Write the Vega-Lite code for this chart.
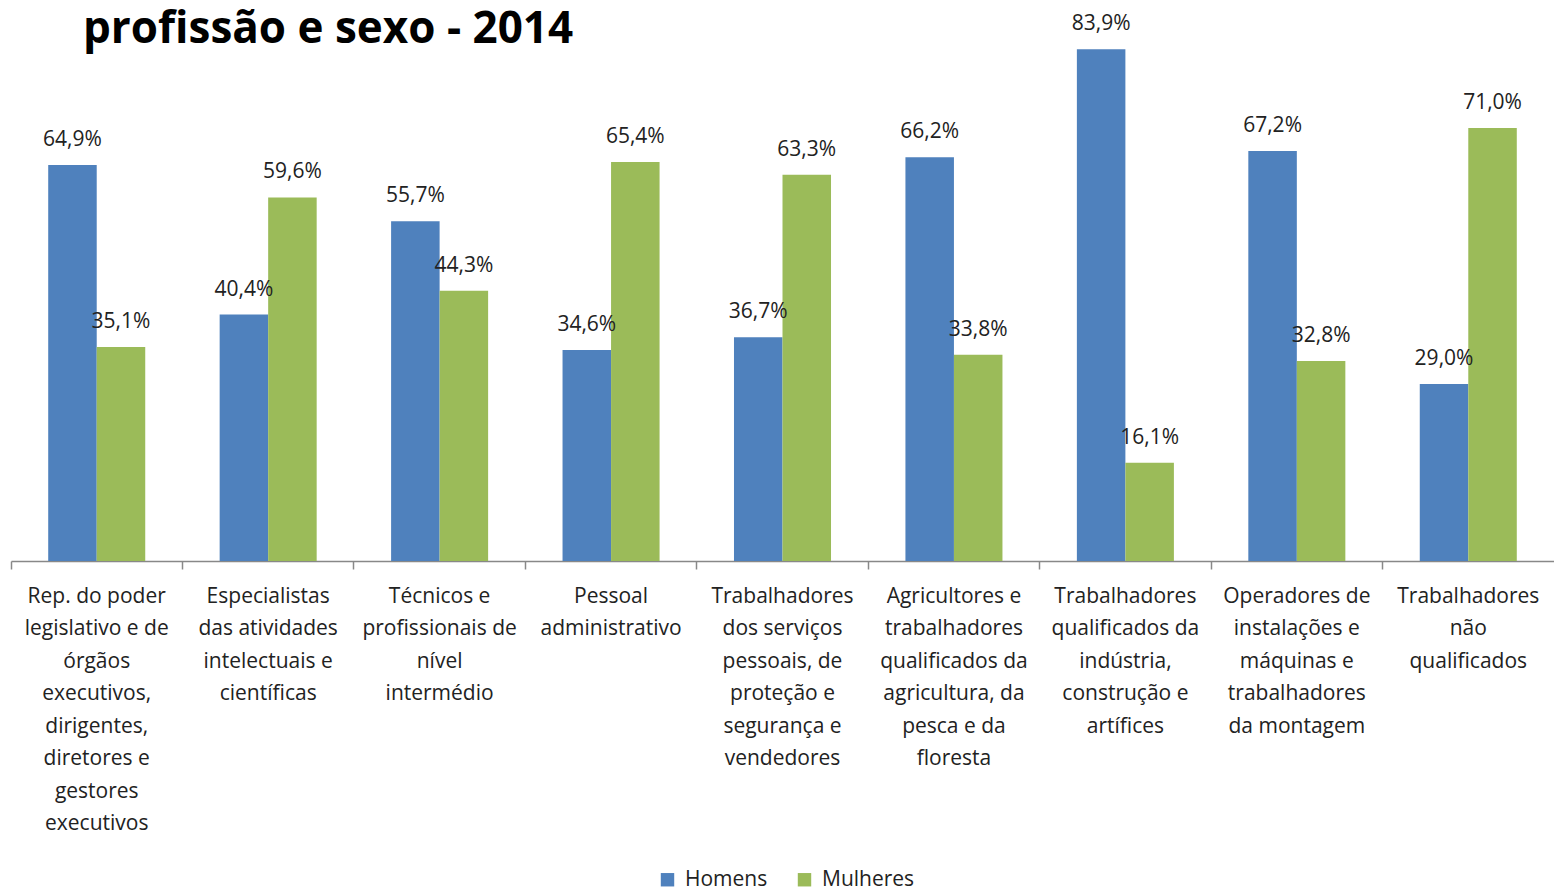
{
  "$schema": "https://vega.github.io/schema/vega-lite/v6.json",
  "width": 1543,
  "height": 549,
  "autosize": {"type": "none"},
  "padding": {"left": 11, "top": 12, "right": 0, "bottom": 328},
  "title": {
    "text": "profissão e sexo - 2014",
    "anchor": "start",
    "frame": "group",
    "orient": "top",
    "offset": -40,
    "dx": 72,
    "font": "Open Sans",
    "fontSize": 44,
    "fontWeight": "bold",
    "color": "#000000"
  },
  "data": {
    "values": [
      {"cat": "Rep. do poder|legislativo e de|órgãos|executivos,|dirigentes,|diretores e|gestores|executivos", "sexo": "Homens", "v": 64.9},
      {"cat": "Rep. do poder|legislativo e de|órgãos|executivos,|dirigentes,|diretores e|gestores|executivos", "sexo": "Mulheres", "v": 35.1},
      {"cat": "Especialistas|das atividades|intelectuais e|científicas", "sexo": "Homens", "v": 40.4},
      {"cat": "Especialistas|das atividades|intelectuais e|científicas", "sexo": "Mulheres", "v": 59.6},
      {"cat": "Técnicos e|profissionais de|nível|intermédio", "sexo": "Homens", "v": 55.7},
      {"cat": "Técnicos e|profissionais de|nível|intermédio", "sexo": "Mulheres", "v": 44.3},
      {"cat": "Pessoal|administrativo", "sexo": "Homens", "v": 34.6},
      {"cat": "Pessoal|administrativo", "sexo": "Mulheres", "v": 65.4},
      {"cat": "Trabalhadores|dos serviços|pessoais, de|proteção e|segurança e|vendedores", "sexo": "Homens", "v": 36.7},
      {"cat": "Trabalhadores|dos serviços|pessoais, de|proteção e|segurança e|vendedores", "sexo": "Mulheres", "v": 63.3},
      {"cat": "Agricultores e|trabalhadores|qualificados da|agricultura, da|pesca e da|floresta", "sexo": "Homens", "v": 66.2},
      {"cat": "Agricultores e|trabalhadores|qualificados da|agricultura, da|pesca e da|floresta", "sexo": "Mulheres", "v": 33.8},
      {"cat": "Trabalhadores|qualificados da|indústria,|construção e|artífices", "sexo": "Homens", "v": 83.9},
      {"cat": "Trabalhadores|qualificados da|indústria,|construção e|artífices", "sexo": "Mulheres", "v": 16.1},
      {"cat": "Operadores de|instalações e|máquinas e|trabalhadores|da montagem", "sexo": "Homens", "v": 67.2},
      {"cat": "Operadores de|instalações e|máquinas e|trabalhadores|da montagem", "sexo": "Mulheres", "v": 32.8},
      {"cat": "Trabalhadores|não|qualificados", "sexo": "Homens", "v": 29.0},
      {"cat": "Trabalhadores|não|qualificados", "sexo": "Mulheres", "v": 71.0}
    ]
  },
  "encoding": {
    "x": {
      "field": "cat",
      "type": "nominal",
      "sort": null,
      "scale": {"paddingInner": 0, "paddingOuter": 0},
      "axis": {
        "title": null,
        "labelExpr": "split(datum.label, '|')",
        "labelAngle": 0,
        "labelFont": "Open Sans",
        "labelFontSize": 21,
        "labelColor": "#222222",
        "labelLineHeight": 32.5,
        "labelPadding": 16,
        "labelLimit": 0,
        "labelOverlap": false,
        "labelBound": false,
        "labelBaseline": "top",
        "bandPosition": 0,
        "tickSize": 8,
        "tickColor": "#888888",
        "domainColor": "#888888",
        "domainWidth": 1.5,
        "tickWidth": 1.5,
        "grid": false
      }
    },
    "xOffset": {
      "field": "sexo",
      "type": "nominal",
      "scale": {"paddingInner": 0, "paddingOuter": 0.767}
    },
    "y": {
      "field": "v",
      "type": "quantitative",
      "scale": {"domain": [0, 90]},
      "axis": null
    }
  },
  "layer": [
    {
      "mark": {"type": "bar"},
      "encoding": {
        "color": {
          "field": "sexo",
          "type": "nominal",
          "scale": {"domain": ["Homens", "Mulheres"], "range": ["#4F81BD", "#9BBB59"]},
          "legend": {
            "title": null,
            "orient": "none",
            "direction": "horizontal",
            "legendX": 646,
            "legendY": 857,
            "symbolType": "square",
            "symbolSize": 180,
            "symbolStrokeWidth": 0,
            "labelFont": "Open Sans",
            "labelFontSize": 21,
            "labelColor": "#222222",
            "columnPadding": 26,
            "labelOffset": 7
          }
        }
      }
    },
    {
      "mark": {
        "type": "text",
        "baseline": "alphabetic",
        "dy": -19,
        "font": "Open Sans",
        "fontSize": 21,
        "color": "#222222",
        "text": {"expr": "replace(format(datum.v, '.1f'), '.', ',') + '%'"}
      }
    }
  ],
  "config": {
    "view": {"stroke": null}
  }
}
